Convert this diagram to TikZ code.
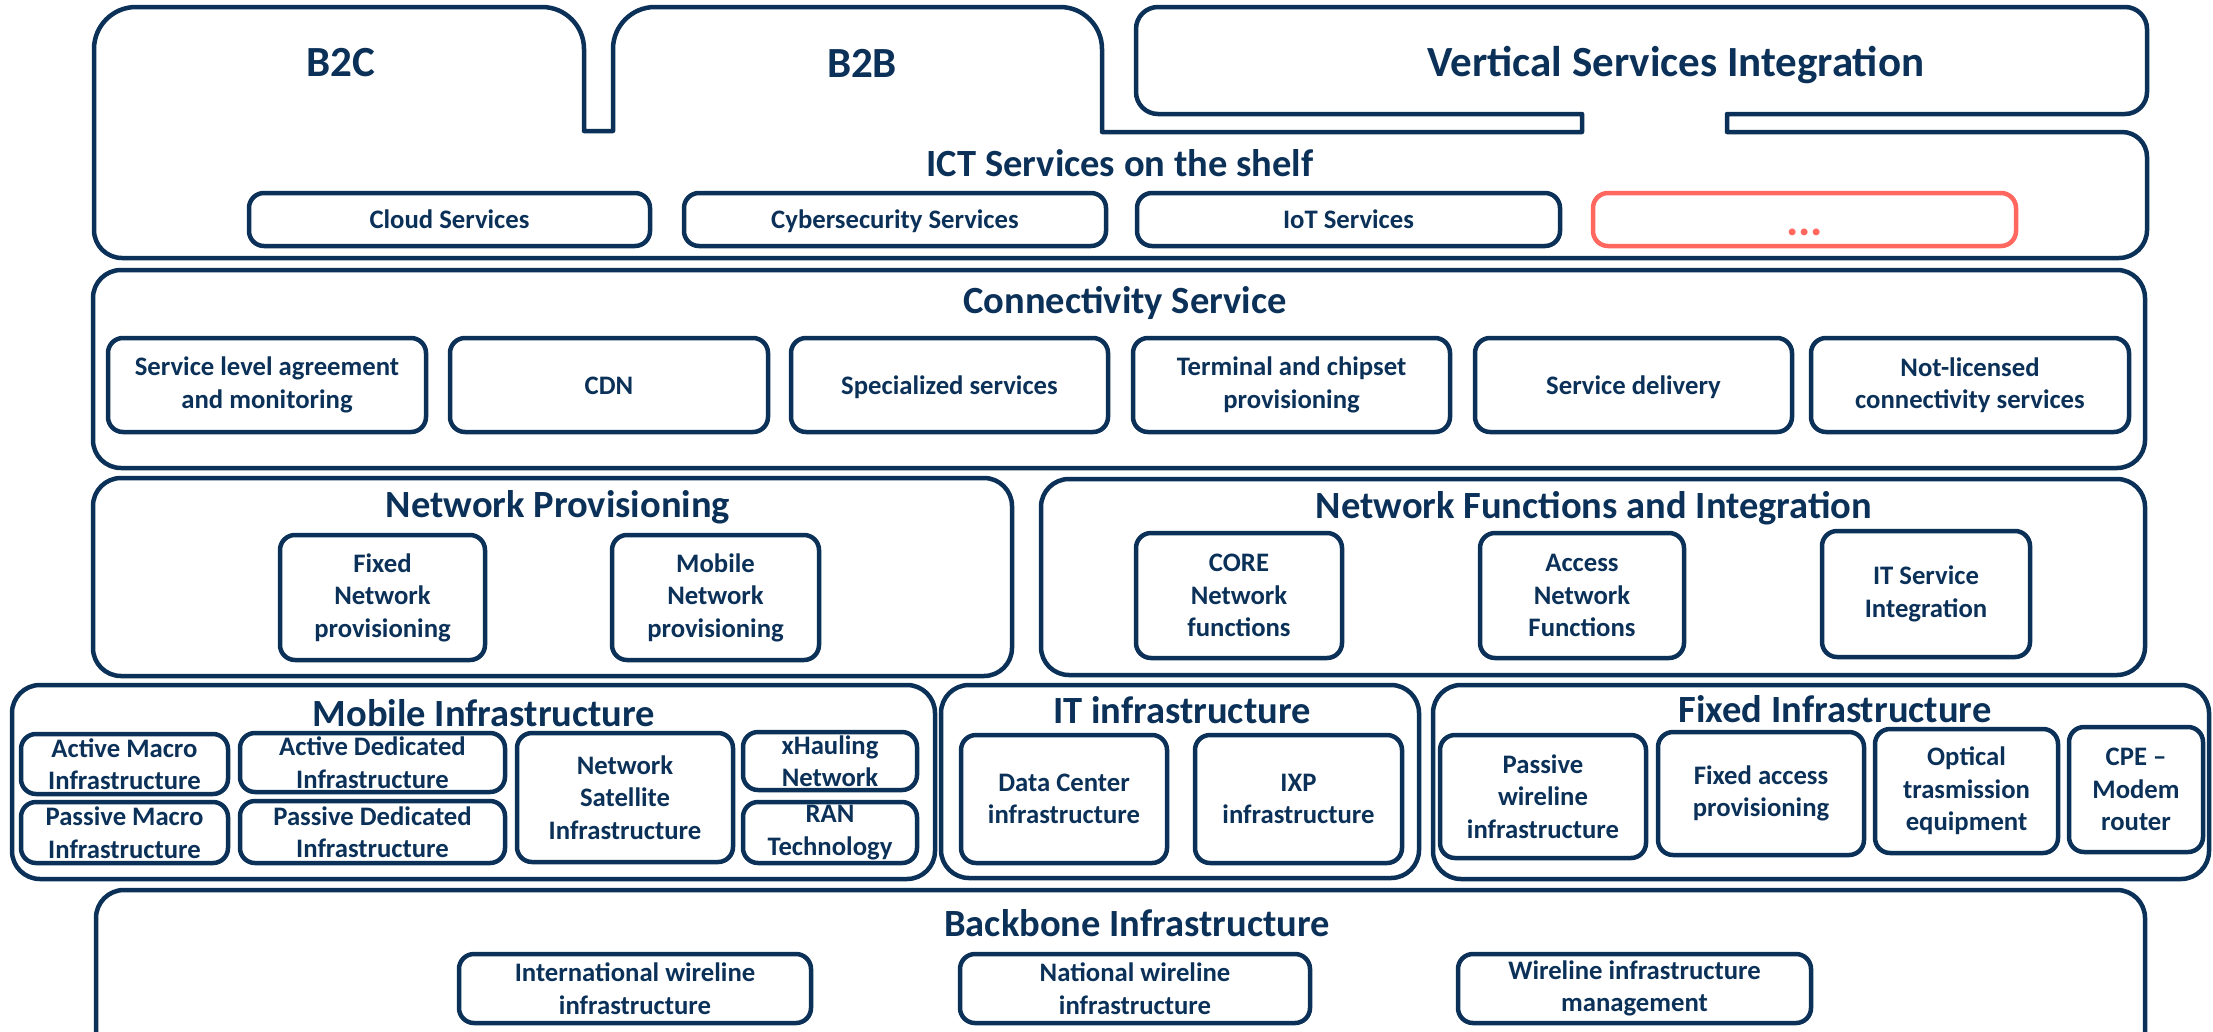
\documentclass[tikz,border=0pt]{standalone}
\usepackage{fontspec}
\setmainfont{Carlito}
\definecolor{navy}{HTML}{0B3159}
\definecolor{salmon}{HTML}{FF675F}
\newcommand\fsmall{\fontsize{26.7}{32.5}\selectfont\bfseries}
\newcommand\ftitle{\fontsize{38.5}{44}\selectfont\bfseries}
\newcommand\fbig{\fontsize{43}{48}\selectfont\bfseries}
\tikzset{
  sect/.style={draw=navy, line width=4.5pt, rounded corners=28pt, inner sep=0pt},
  sub/.style={draw=navy, line width=4.5pt, rounded corners=15pt, align=center, text=navy, font=\fsmall, inner sep=0pt},
  oneline/.style={text height=20pt, text depth=2pt},
  ttl/.style={text=navy, font=\ftitle, inner sep=0pt},
  bigttl/.style={text=navy, font=\fbig, inner sep=0pt},
}
\begin{document}
\begin{tikzpicture}[x=1pt,y=-1pt]
\useasboundingbox (0,0) rectangle (2213,1031);
\fill[white] (0,0) rectangle (2213,1031);
\clip (0,0) rectangle (2213,1031);

% ---- top combined outline (B2C, B2B tabs, ICT shelf, Vertical box) ----
\draw[navy, line width=4.5pt, line join=round]
 (94,230) -- (94,49) arc[start angle=180,end angle=270,radius=42]
 -- (542,7) arc[start angle=270,end angle=360,radius=42]
 -- (584,131) -- (613,131) -- (613,49) arc[start angle=180,end angle=270,radius=42]
 -- (1060,7) arc[start angle=270,end angle=360,radius=42]
 -- (1102,132) -- (1582,132) -- (1582,114) -- (1158,114) arc[start angle=90,end angle=180,radius=22]
 -- (1136,29) arc[start angle=180,end angle=270,radius=22]
 -- (2125,7) arc[start angle=270,end angle=360,radius=22]
 -- (2147,92) arc[start angle=0,end angle=90,radius=22]
 -- (1727,114) -- (1727,132) -- (2122,132) arc[start angle=270,end angle=360,radius=25]
 -- (2147,230) arc[start angle=0,end angle=90,radius=28]
 -- (122,258) arc[start angle=90,end angle=180,radius=28] -- cycle;

\node[bigttl] (b2c) at (341,63) {B2C};
\node[bigttl] (b2b) at (862,63) {B2B};
\node[bigttl] (vsi) at (1676,65) {Vertical Services Integration};
\node[ttl] (ict) at (1120,163) {ICT Services on the shelf};

\node[sub, oneline, minimum width=401pt, minimum height=53pt] (cloud) at (449.5,219.5) {Cloud Services};
\node[sub, oneline, minimum width=422pt, minimum height=53pt] (cyber) at (895,219.5) {Cybersecurity Services};
\node[sub, oneline, minimum width=423pt, minimum height=53pt] (iot) at (1348.5,219.5) {IoT Services};
\node[sub, draw=salmon, text=salmon, minimum width=423pt, minimum height=53pt, font=\fontsize{46}{48}\selectfont\bfseries] (more) at (1804.5,219.5) {\raisebox{-15.5pt}[0pt][0pt]{...}};

% ---- Connectivity Service ----
\node[sect, minimum width=2052pt, minimum height=198pt] (conn) at (1119,369) {};
\node[ttl] (connT) at (1125,303) {Connectivity Service};
\node[sub, minimum width=318pt, minimum height=94pt] (sla) at (267,385) {Service level agreement\\and monitoring};
\node[sub, oneline, minimum width=318pt, minimum height=94pt] (cdn) at (609,385) {CDN};
\node[sub, oneline, minimum width=317pt, minimum height=94pt] (spec) at (949.5,385) {Specialized services};
\node[sub, minimum width=317pt, minimum height=94pt] (term) at (1291.5,385) {Terminal and chipset\\provisioning};
\node[sub, oneline, minimum width=317pt, minimum height=94pt] (deliv) at (1633.5,385) {Service delivery};
\node[sub, minimum width=318pt, minimum height=94pt] (notlic) at (1970,385) {Not-licensed\\connectivity services};

% ---- Network Provisioning ----
\node[sect, minimum width=919pt, minimum height=198pt] (np) at (552.5,577) {};
\node[ttl] (npT) at (558,507) {Network Provisioning};
\node[sub, minimum width=205pt, minimum height=125pt] (fnp) at (382.5,597.5) {Fixed\\Network\\provisioning};
\node[sub, minimum width=207pt, minimum height=125pt] (mnp) at (715.5,597.5) {Mobile\\Network\\provisioning};

% ---- Network Functions and Integration ----
\node[sect, minimum width=1104pt, minimum height=196pt] (nf) at (1593,577) {};
\node[ttl] (nfT) at (1594,508) {Network Functions and Integration};
\node[sub, minimum width=206pt, minimum height=125pt] (core) at (1239,595.5) {CORE\\Network\\functions};
\node[sub, minimum width=204pt, minimum height=125pt] (access) at (1582,595.5) {Access\\Network\\Functions};
\node[sub, minimum width=208pt, minimum height=126pt] (itsi) at (1926,594) {IT Service\\Integration};

% ---- Mobile Infrastructure ----
\node[sect, minimum width=923pt, minimum height=194pt] (mi) at (473.5,782) {};
\node[ttl] (miT) at (484,713) {Mobile Infrastructure};
\node[sub, minimum width=207pt, minimum height=60pt] (am) at (124.5,764) {Active Macro\\Infrastructure};
\node[sub, minimum width=207pt, minimum height=61pt] (pm) at (124.5,832.5) {Passive Macro\\Infrastructure};
\node[sub, minimum width=265pt, minimum height=59pt] (ad) at (372.5,762.5) {Active Dedicated\\Infrastructure};
\node[sub, minimum width=265pt, minimum height=62pt] (pd) at (372.5,832) {Passive Dedicated\\Infrastructure};
\node[sub, minimum width=216pt, minimum height=129pt] (ns) at (625,797.5) {Network\\Satellite\\Infrastructure};
\node[sub, minimum width=174pt, minimum height=58pt] (xh) at (830,761) {xHauling\\Network};
\node[sub, minimum width=174pt, minimum height=61pt] (ran) at (830,832.5) {RAN\\Technology};

% ---- IT infrastructure ----
\node[sect, minimum width=478pt, minimum height=193pt] (it) at (1180,781.5) {};
\node[ttl] (itT) at (1182,710) {IT infrastructure};
\node[sub, minimum width=206pt, minimum height=128pt] (dc) at (1064,799) {Data Center\\infrastructure};
\node[sub, minimum width=207pt, minimum height=128pt] (ixp) at (1298.5,799) {IXP\\infrastructure};

% ---- Fixed Infrastructure ----
\node[sect, minimum width=776pt, minimum height=194pt] (fi) at (1821,782) {};
\node[ttl] (fiT) at (1835,709) {Fixed Infrastructure};
\node[sub, minimum width=206pt, minimum height=123pt] (pw) at (1543,796.5) {Passive\\wireline\\infrastructure};
\node[sub, minimum width=206pt, minimum height=123pt] (fa) at (1761,793.5) {Fixed access\\provisioning};
\node[sub, minimum width=183pt, minimum height=124pt] (ot) at (1966.5,791) {Optical\\trasmission\\equipment};
\node[sub, minimum width=134pt, minimum height=125pt] (cpe) at (2136,789.5) {CPE --\\Modem\\router};

% ---- Backbone Infrastructure ----
\node[sect, minimum width=2049pt, minimum height=170pt] (bb) at (1120.5,975) {};
\node[ttl] (bbT) at (1137,923) {Backbone Infrastructure};
\node[sub, minimum width=352pt, minimum height=69pt] (intl) at (635,988.5) {International wireline\\infrastructure};
\node[sub, minimum width=350pt, minimum height=69pt] (natl) at (1135,988.5) {National wireline\\infrastructure};
\node[sub, minimum width=353pt, minimum height=69pt] (wim) at (1634.5,988.5) {Wireline infrastructure\\management};
\end{tikzpicture}
\end{document}
